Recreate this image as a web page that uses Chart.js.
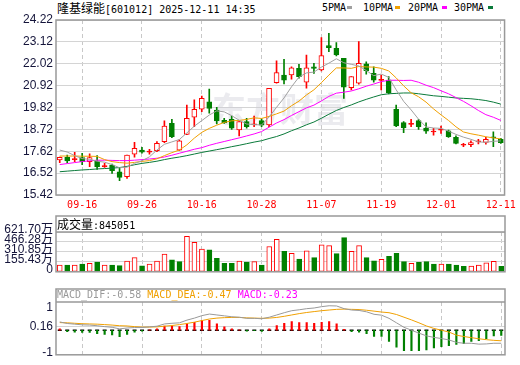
<!DOCTYPE html>
<html lang="zh-CN">
<head>
<meta charset="UTF-8">
<title>隆基绿能 日K线</title>
<script src="https://cdn.jsdelivr.net/npm/chart.js"></script>
<style>
    body { margin: 0; width: 520px; height: 365px; background: #fff; position: relative; overflow: hidden; }
    canvas { position: absolute; left: 0; }
    .txt { position: absolute; white-space: pre; line-height: 14px; color: #000; }
    .cjk { font-family: "Noto Sans CJK SC", sans-serif; font-size: 12px; }
    .mono { font-family: "DejaVu Sans Mono", monospace; font-size: 10px; }
    .sw { position: absolute; width: 5px; height: 3px; top: 6px; }
</style>
</head>
<body>
<div class="txt" style="left:57px;top:1px"><span class="cjk">隆基绿能</span><span class="mono">[601012] 2025-12-11 14:35</span></div>

<div class="txt mono" style="left:322px;top:1px">5PMA</div><div class="sw" style="left:347px;background:#a0a0a0"></div>
<div class="txt mono" style="left:363px;top:1px">10PMA</div><div class="sw" style="left:395px;background:#f0a000"></div>
<div class="txt mono" style="left:408px;top:1px">20PMA</div><div class="sw" style="left:442px;background:#ff00ff"></div>
<div class="txt mono" style="left:454px;top:1px">30PMA</div><div class="sw" style="left:488px;background:#0a7a3a"></div>

<canvas id="kChart" width="520" height="215" style="top:0"></canvas>
<canvas id="volChart" width="520" height="72" style="top:210px"></canvas>
<canvas id="macdChart" width="520" height="82" style="top:283px"></canvas>

<div class="txt" style="left:57px;top:217px"><span class="cjk">成交量</span><span class="mono">:845051</span></div>
<div class="txt mono" style="left:57px;top:288px"><span style="color:#999">MACD_DIF:-0.58</span> <span style="color:#f0a000">MACD_DEA:-0.47</span> <span style="color:#ff00ff">MACD:-0.23</span></div>

<script>
// 交易日
const dates = [
    '09-11','09-12','09-15','09-16','09-17','09-18','09-19','09-22','09-23','09-24',
    '09-25','09-26','09-29','09-30','10-09','10-10','10-13','10-14','10-15','10-16',
    '10-17','10-20','10-21','10-22','10-23','10-24','10-27','10-28','10-29','10-30',
    '10-31','11-03','11-04','11-05','11-06','11-07','11-10','11-11','11-12','11-13',
    '11-14','11-17','11-18','11-19','11-20','11-21','11-24','11-25','11-26','11-27',
    '11-28','12-01','12-02','12-03','12-04','12-05','12-08','12-09','12-10','12-11'
];

// K线 开 高 低 收
const opens = [
    17.18,17.31,17.20,17.30,17.10,17.14,16.85,16.93,16.59,16.34,
    17.47,17.68,17.58,17.65,18.10,19.02,17.68,18.47,19.33,19.73,
    20.11,19.69,19.18,19.23,18.69,19.11,18.95,19.16,18.94,21.07,
    21.45,21.46,21.79,21.09,21.87,21.71,22.93,22.80,22.29,20.82,
    21.04,22.01,21.54,21.18,21.20,19.73,19.06,18.97,19.16,18.78,
    18.59,18.68,18.65,18.32,17.92,17.95,18.09,18.07,18.32,18.22
];
const highs = [
    17.33,17.43,17.57,17.52,17.49,17.40,17.01,16.98,16.81,17.43,
    18.07,17.82,17.72,18.10,19.15,19.23,18.20,19.94,20.20,20.40,
    20.74,19.83,19.27,19.39,19.11,19.28,19.39,19.25,20.78,22.17,
    22.24,21.87,21.99,22.46,22.04,23.33,23.55,23.08,22.29,21.37,
    23.13,22.12,21.87,21.45,21.37,19.94,19.11,19.22,19.23,19.05,
    18.77,18.89,18.69,18.39,18.02,18.14,18.22,18.32,18.60,18.27
];
const lows = [
    17.05,17.05,17.10,16.95,16.84,16.71,16.81,16.51,16.14,16.26,
    17.32,17.52,17.47,17.60,18.05,18.30,17.66,18.45,18.86,19.61,
    19.53,18.99,19.02,18.72,18.39,18.78,18.86,18.85,18.85,21.04,
    21.00,21.25,21.29,20.79,21.54,21.66,22.63,22.41,20.28,20.70,
    20.99,21.50,21.09,20.70,20.50,18.85,18.55,18.86,18.72,18.52,
    18.43,18.52,18.32,17.99,17.85,17.85,17.99,17.97,17.85,18.02
];
const closes = [
    17.31,17.13,17.22,17.10,17.30,16.84,16.88,16.64,16.31,17.43,
    17.77,17.57,17.62,18.02,18.89,18.35,18.15,19.28,19.73,20.28,
    19.78,19.16,19.05,18.78,19.11,18.86,19.00,18.93,20.78,21.57,
    21.20,21.82,21.37,21.82,21.79,22.43,22.83,22.47,20.84,21.37,
    22.04,21.67,21.20,21.22,20.55,18.89,18.81,19.03,18.86,18.63,
    18.61,18.72,18.35,18.02,17.94,18.05,18.11,18.22,18.29,18.05
];

// 均线
const ma5 = [
    17.68,17.58,17.40,17.25,17.21,17.12,17.07,16.95,16.79,16.82,
    17.01,17.14,17.34,17.68,17.97,18.09,18.21,18.54,18.88,19.16,
    19.44,19.65,19.60,19.41,19.18,18.99,18.96,18.94,19.34,19.83,
    20.30,20.86,21.35,21.56,21.60,21.85,22.05,22.27,22.07,21.99,
    21.91,21.68,21.42,21.50,21.34,20.71,20.13,19.70,19.23,18.84,
    18.79,18.77,18.63,18.47,18.33,18.22,18.09,18.07,18.12,18.14
];
const ma10 = [
    17.38,17.38,17.38,17.37,17.37,17.36,17.20,17.10,17.05,17.02,
    17.06,17.11,17.15,17.24,17.40,17.55,17.68,17.94,18.28,18.57,
    18.77,18.93,19.07,19.15,19.17,19.22,19.30,19.27,19.37,19.50,
    19.64,19.91,20.14,20.45,20.71,21.07,21.45,21.81,21.81,21.79,
    21.88,21.86,21.85,21.79,21.66,21.31,20.91,20.56,20.36,20.09,
    19.75,19.45,19.17,18.85,18.59,18.50,18.43,18.35,18.29,18.24
];
const ma20 = [
    16.95,17.00,17.05,17.10,17.14,17.17,17.17,17.16,17.15,17.15,
    17.17,17.20,17.23,17.27,17.33,17.42,17.52,17.62,17.72,17.80,
    17.92,18.02,18.11,18.20,18.29,18.39,18.49,18.61,18.83,19.04,
    19.21,19.42,19.61,19.80,19.94,20.15,20.38,20.54,20.59,20.65,
    20.76,20.89,21.00,21.12,21.19,21.19,21.18,21.19,21.09,20.94,
    20.82,20.66,20.51,20.32,20.13,19.91,19.67,19.46,19.33,19.17
];
const ma30 = [
    16.59,16.62,16.65,16.68,16.70,16.73,16.75,16.77,16.80,16.86,
    16.94,17.01,17.06,17.12,17.20,17.27,17.33,17.40,17.48,17.56,
    17.63,17.70,17.77,17.85,17.92,18.00,18.08,18.15,18.26,18.36,
    18.49,18.65,18.79,18.95,19.09,19.28,19.48,19.67,19.82,19.95,
    20.10,20.23,20.35,20.46,20.51,20.53,20.55,20.55,20.51,20.46,
    20.41,20.38,20.34,20.30,20.28,20.26,20.22,20.17,20.09,19.99
];

// 成交量(万手)
const volumes = [
    106,106,106,120,133,151,106,106,97,169,
    222,93,120,169,275,186,160,555,462,355,
    342,209,133,133,169,151,160,106,395,506,
    320,289,200,329,222,422,408,284,533,320,
    408,222,173,195,240,289,160,133,146,160,
    120,120,120,106,84,89,106,142,164,84.5
];

// MACD
const dif = [
    0.37,0.30,0.27,0.24,0.23,0.20,0.16,0.13,0.06,0.10,
    0.12,0.12,0.15,0.18,0.28,0.31,0.33,0.45,0.54,0.65,
    0.72,0.68,0.64,0.60,0.58,0.53,0.53,0.51,0.58,0.68,
    0.78,0.87,0.91,0.96,0.99,1.05,1.09,1.08,0.96,0.90,
    0.88,0.82,0.71,0.67,0.53,0.33,0.13,0.00,-0.13,-0.25,
    -0.32,-0.37,-0.43,-0.54,-0.58,-0.58,-0.62,-0.61,-0.58,-0.58
];
const dea = [
    0.34,0.33,0.31,0.29,0.28,0.27,0.25,0.23,0.20,0.19,
    0.16,0.14,0.14,0.15,0.18,0.21,0.25,0.30,0.36,0.43,
    0.50,0.54,0.56,0.57,0.57,0.55,0.54,0.53,0.54,0.57,
    0.62,0.68,0.74,0.79,0.83,0.87,0.90,0.93,0.94,0.93,
    0.92,0.89,0.85,0.81,0.78,0.70,0.58,0.46,0.33,0.19,
    0.08,0.00,-0.08,-0.22,-0.28,-0.33,-0.38,-0.42,-0.45,-0.47
];
const macd = [
    0.06,-0.06,-0.09,-0.10,-0.10,-0.15,-0.19,-0.21,-0.29,-0.19,
    -0.09,-0.04,0.02,0.06,0.19,0.19,0.16,0.29,0.35,0.44,
    0.44,0.28,0.15,0.06,0.02,-0.04,-0.02,-0.05,0.06,0.21,
    0.31,0.38,0.34,0.34,0.31,0.35,0.38,0.29,0.04,-0.06,
    -0.09,-0.15,-0.28,-0.28,-0.50,-0.75,-0.91,-0.91,-0.91,-0.88,
    -0.79,-0.73,-0.69,-0.63,-0.60,-0.50,-0.47,-0.38,-0.25,-0.23
];

// 刻度
const priceTicks = [15.42, 16.52, 17.62, 18.72, 19.82, 20.92, 22.02, 23.12, 24.22];
const volTicks = [0, 155.43, 310.85, 466.28, 621.70];
const volTickLabels = ['0', '155.43万', '310.85万', '466.28万', '621.70万'];
const macdTicks = [-1, 0.16, 1];
const macdTickLabels = ['-1', '0.16', '1'];

const RED = '#ff0000';
const GREEN = '#008000';
const FRAME = '#999999';
const GRID = '#d4d4d4';
const LABEL_FONT = { family: 'Liberation Sans', size: 12 };
const LABEL_COLOR = '#14143a';

const isUp = i => closes[i] >= opens[i];
const volUp = i => i === 0 ? isUp(0) : closes[i] >= closes[i - 1];

// 竖向虚线只画在有日期标签的位置
const xGrid = {
    offset: false,
    drawTicks: false,
    color: ctx => (ctx.index % 8 === 3 ? '#c8c8c8' : 'rgba(0,0,0,0)')
};

function frameOf(headerH) {
    return {
        id: 'frame',
        afterDraw(chart) {
            const { ctx, chartArea: a } = chart;
            ctx.save();
            ctx.strokeStyle = FRAME;
            ctx.lineWidth = 1.5;
            ctx.strokeRect(a.left, a.top - headerH, a.right - a.left, a.bottom - a.top + headerH);
            if (headerH) {
                ctx.beginPath();
                ctx.moveTo(a.left, a.top);
                ctx.lineTo(a.right, a.top);
                ctx.stroke();
            }
            ctx.restore();
        }
    };
}

const watermark = {
    id: 'watermark',
    beforeDatasetsDraw(chart) {
        const ctx = chart.ctx;
        ctx.save();
        ctx.fillStyle = 'rgba(205,205,215,0.4)';
        ctx.font = 'bold 34px "Noto Sans CJK SC"';
        ctx.textBaseline = 'alphabetic';
        ctx.fillText('东方财富', 212, 122);
        ctx.restore();
    }
};

const zeroLine = {
    id: 'zeroLine',
    beforeDatasetsDraw(chart) {
        const { ctx, scales } = chart;
        const y = scales.y.getPixelForValue(0);
        ctx.save();
        ctx.strokeStyle = '#000';
        ctx.lineWidth = 1.5;
        ctx.beginPath();
        dates.forEach((d, i) => {
            const x = scales.x.getPixelForValue(i);
            ctx.moveTo(x - 2, y);
            ctx.lineTo(x + 2, y);
        });
        ctx.stroke();
        ctx.restore();
    }
};

function yAxis(min, max, ticks, labels, extra) {
    return Object.assign({
        min: min,
        max: max,
        afterFit: s => { s.width = 56; },
        afterBuildTicks: s => { s.ticks = ticks.map(v => ({ value: v })); },
        border: { display: false },
        grid: { drawTicks: false, color: GRID },
        ticks: {
            autoSkip: false,
            padding: 3,
            color: LABEL_COLOR,
            font: LABEL_FONT,
            callback: v => labels[ticks.indexOf(v)]
        }
    }, extra || {});
}

const baseOptions = {
    responsive: false,
    animation: false,
    events: [],
    plugins: { legend: { display: false }, tooltip: { enabled: false } }
};

// K线图
new Chart(document.getElementById('kChart'), {
    type: 'bar',
    data: {
        labels: dates,
        datasets: [
            { type: 'line', data: ma5, borderColor: '#a0a0a0', borderWidth: 1, pointRadius: 0, order: 0 },
            { type: 'line', data: ma10, borderColor: '#f0a000', borderWidth: 1, pointRadius: 0, order: 0 },
            { type: 'line', data: ma20, borderColor: '#ff00ff', borderWidth: 1, pointRadius: 0, order: 0 },
            { type: 'line', data: ma30, borderColor: '#0a7a3a', borderWidth: 1, pointRadius: 0, order: 0 },
            {
                data: opens.map((o, i) => [o, closes[i]]),
                grouped: false,
                barThickness: 5,
                minBarLength: 1,
                borderWidth: 1,
                borderSkipped: false,
                borderColor: dates.map((d, i) => isUp(i) ? RED : GREEN),
                backgroundColor: dates.map((d, i) => isUp(i)
                    ? (Math.abs(closes[i] - opens[i]) < 0.08 ? RED : '#ffffff')
                    : GREEN),
                order: 1
            },
            {
                data: lows.map((l, i) => [l, highs[i]]),
                grouped: false,
                barThickness: 1,
                borderWidth: 0,
                backgroundColor: dates.map((d, i) => isUp(i) ? RED : GREEN),
                order: 2
            }
        ]
    },
    options: Object.assign({}, baseOptions, {
        layout: { padding: { top: 20, right: 15, left: 0, bottom: 0 } },
        scales: {
            x: {
                offset: true,
                afterFit: s => { s.height = 20; },
                border: { display: false, dash: [4, 3] },
                grid: xGrid,
                ticks: {
                    autoSkip: false,
                    maxRotation: 0,
                    minRotation: 0,
                    padding: 4,
                    color: RED,
                    font: { family: 'DejaVu Sans Mono', size: 10 },
                    callback: (v, i) => (i % 8 === 3 ? dates[i] : '')
                }
            },
            y: yAxis(15.42, 24.22, priceTicks, priceTicks.map(v => v.toFixed(2)))
        }
    }),
    plugins: [watermark, frameOf(0)]
});

// 成交量
const volAxis = yAxis(0, 621.70, volTicks, volTickLabels);
volAxis.ticks.labelOffset = -2;
new Chart(document.getElementById('volChart'), {
    type: 'bar',
    data: {
        labels: dates,
        datasets: [{
            data: volumes,
            barThickness: 5,
            borderWidth: 1,
            borderSkipped: false,
            borderColor: dates.map((d, i) => volUp(i) ? RED : GREEN),
            backgroundColor: dates.map((d, i) => volUp(i) ? '#ffffff' : GREEN)
        }]
    },
    options: Object.assign({}, baseOptions, {
        layout: { padding: { top: 22, right: 15, left: 0, bottom: 3 } },
        scales: {
            x: {
                offset: true,
                afterFit: s => { s.height = 0; },
                border: { display: false, dash: [4, 3] },
                grid: xGrid,
                ticks: { display: false }
            },
            y: volAxis
        }
    }),
    plugins: [frameOf(16)]
});

// MACD
new Chart(document.getElementById('macdChart'), {
    type: 'bar',
    data: {
        labels: dates,
        datasets: [
            { type: 'line', data: dif, borderColor: '#999999', borderWidth: 1, pointRadius: 0, order: 0 },
            { type: 'line', data: dea, borderColor: '#f0a000', borderWidth: 1, pointRadius: 0, order: 0 },
            {
                data: macd,
                barThickness: 1.5,
                borderWidth: 0,
                backgroundColor: macd.map(v => v >= 0 ? RED : GREEN),
                order: 1
            }
        ]
    },
    options: Object.assign({}, baseOptions, {
        layout: { padding: { top: 19, right: 15, left: 0, bottom: 1 } },
        scales: {
            x: {
                offset: true,
                afterFit: s => { s.height = 0; },
                border: { display: false, dash: [4, 3] },
                grid: xGrid,
                ticks: { display: false }
            },
            y: yAxis(-1.094, 1.257, macdTicks, macdTickLabels, {
                grid: { drawTicks: false, color: ctx => (ctx.tick && ctx.tick.value === 0.16 ? GRID : 'rgba(0,0,0,0)') }
            })
        }
    }),
    plugins: [zeroLine, frameOf(13)]
});
</script>
</body>
</html>
